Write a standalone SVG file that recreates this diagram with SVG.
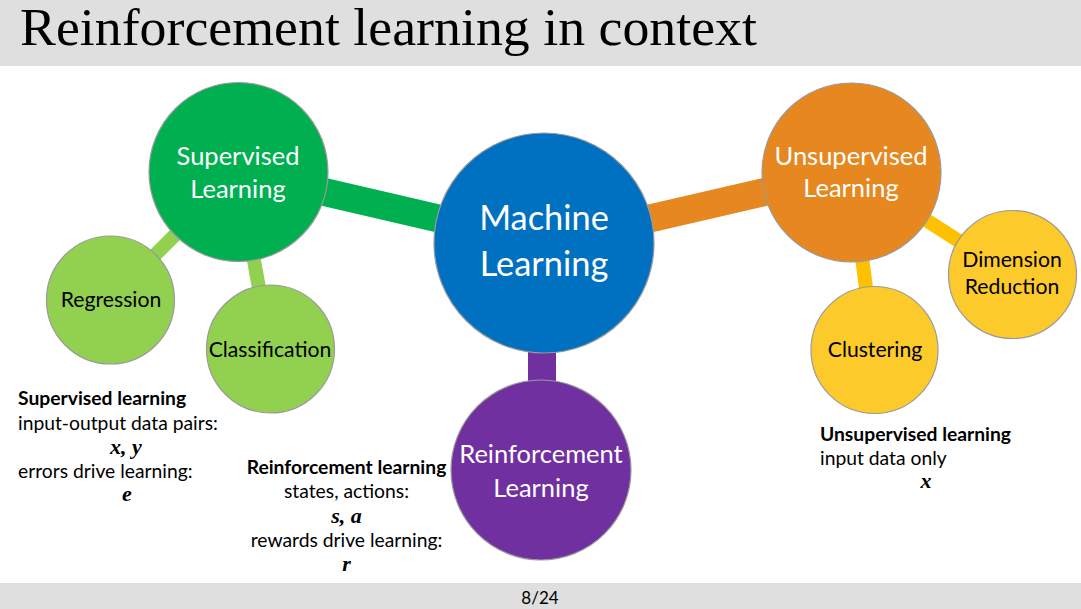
<svg xmlns="http://www.w3.org/2000/svg" width="1081" height="609" viewBox="0 0 1081 609">
<style>
.node{stroke:#9a9a9a;stroke-width:1.2}
.lbl{font-family:Lato,"Liberation Sans",sans-serif;text-anchor:middle}
.wh{fill:#ffffff}
.bk{fill:#000000}
.body{font-family:Lato,"Liberation Sans",sans-serif;font-size:19.3px;fill:#000}
.b{font-weight:bold}
.math{font-family:"Liberation Serif",serif;font-style:italic;font-weight:bold;font-size:22px;fill:#000;text-anchor:middle}
.thick{stroke-width:28;fill:none}
.thin{stroke-width:14;fill:none}
</style>
<rect x="0" y="0" width="1081" height="66" fill="#dfdfdf"/>
<text x="20" y="45" font-family="Liberation Serif,serif" font-size="52" textLength="737" lengthAdjust="spacingAndGlyphs">Reinforcement learning in context</text>
<rect x="0" y="583" width="1081" height="26" fill="#dfdfdf"/>
<text x="540" y="604" font-family="Lato,Liberation Sans,sans-serif" font-size="17" text-anchor="middle">8/24</text>

<g id="connectors">
<line x1="238" y1="172" x2="544" y2="243" stroke="#00b050" class="thick"/>
<line x1="238" y1="172" x2="110" y2="300" stroke="#92d050" class="thin"/>
<line x1="238" y1="172" x2="270" y2="349" stroke="#92d050" class="thin"/>
<line x1="544" y1="243" x2="851" y2="172" stroke="#e6871f" class="thick"/>
<line x1="542" y1="243" x2="542" y2="470" stroke="#7030a0" class="thick"/>
<line x1="851" y1="172" x2="874" y2="350" stroke="#ffc000" class="thin"/>
<line x1="851" y1="172" x2="1012" y2="275" stroke="#ffc000" class="thin"/>
</g>

<g id="supervised">
<circle class="node" cx="238.5" cy="172" r="89.5" fill="#00b050"/>
<text class="lbl wh" x="238" y="165" font-size="25.5">Supervised</text>
<text class="lbl wh" x="238" y="198" font-size="25.5">Learning</text>
</g>
<g id="regression">
<circle class="node" cx="110.5" cy="300" r="64" fill="#92d050"/>
<text class="lbl bk" x="111" y="307" font-size="21.2">Regression</text>
</g>
<g id="classification">
<circle class="node" cx="270.5" cy="349" r="64" fill="#92d050"/>
<text class="lbl bk" x="270" y="357" font-size="21.2">Classification</text>
</g>
<g id="machine">
<circle class="node" cx="544" cy="243" r="110" fill="#0070c0"/>
<text class="lbl wh" x="544" y="230" font-size="34.4">Machine</text>
<text class="lbl wh" x="544" y="276" font-size="34.4">Learning</text>
</g>
<g id="reinforcement">
<circle class="node" cx="541" cy="470" r="90" fill="#7030a0"/>
<text class="lbl wh" x="541" y="463" font-size="25.5">Reinforcement</text>
<text class="lbl wh" x="541" y="497" font-size="25.5">Learning</text>
</g>
<g id="unsupervised">
<circle class="node" cx="851.5" cy="172.5" r="89.5" fill="#e6871f"/>
<text class="lbl wh" x="851" y="165" font-size="25.5">Unsupervised</text>
<text class="lbl wh" x="851" y="197" font-size="25.5">Learning</text>
</g>
<g id="clustering">
<circle class="node" cx="874.5" cy="350" r="63.5" fill="#fdca2c"/>
<text class="lbl bk" x="875" y="357" font-size="21.2">Clustering</text>
</g>
<g id="dimension">
<circle class="node" cx="1012.5" cy="274.5" r="64" fill="#fdca2c"/>
<text class="lbl bk" x="1012" y="267" font-size="21.2">Dimension</text>
<text class="lbl bk" x="1012" y="294" font-size="21.2">Reduction</text>
</g>

<g id="sup-note">
<text class="body b" x="18" y="405">Supervised learning</text>
<text class="body" x="18" y="430">input-output data pairs:</text>
<text class="math" x="126" y="454">x, y</text>
<text class="body" x="18" y="478">errors drive learning:</text>
<text class="math" x="127" y="501">e</text>
</g>
<g id="rl-note">
<text class="body b" x="346.5" y="474" text-anchor="middle">Reinforcement learning</text>
<text class="body" x="346.5" y="498" text-anchor="middle">states, actions:</text>
<text class="math" x="346.5" y="523">s, a</text>
<text class="body" x="346.5" y="547" text-anchor="middle">rewards drive learning:</text>
<text class="math" x="346.5" y="571">r</text>
</g>
<g id="unsup-note">
<text class="body b" x="820" y="441">Unsupervised learning</text>
<text class="body" x="820" y="465">input data only</text>
<text class="math" x="926" y="488">x</text>
</g>
</svg>
